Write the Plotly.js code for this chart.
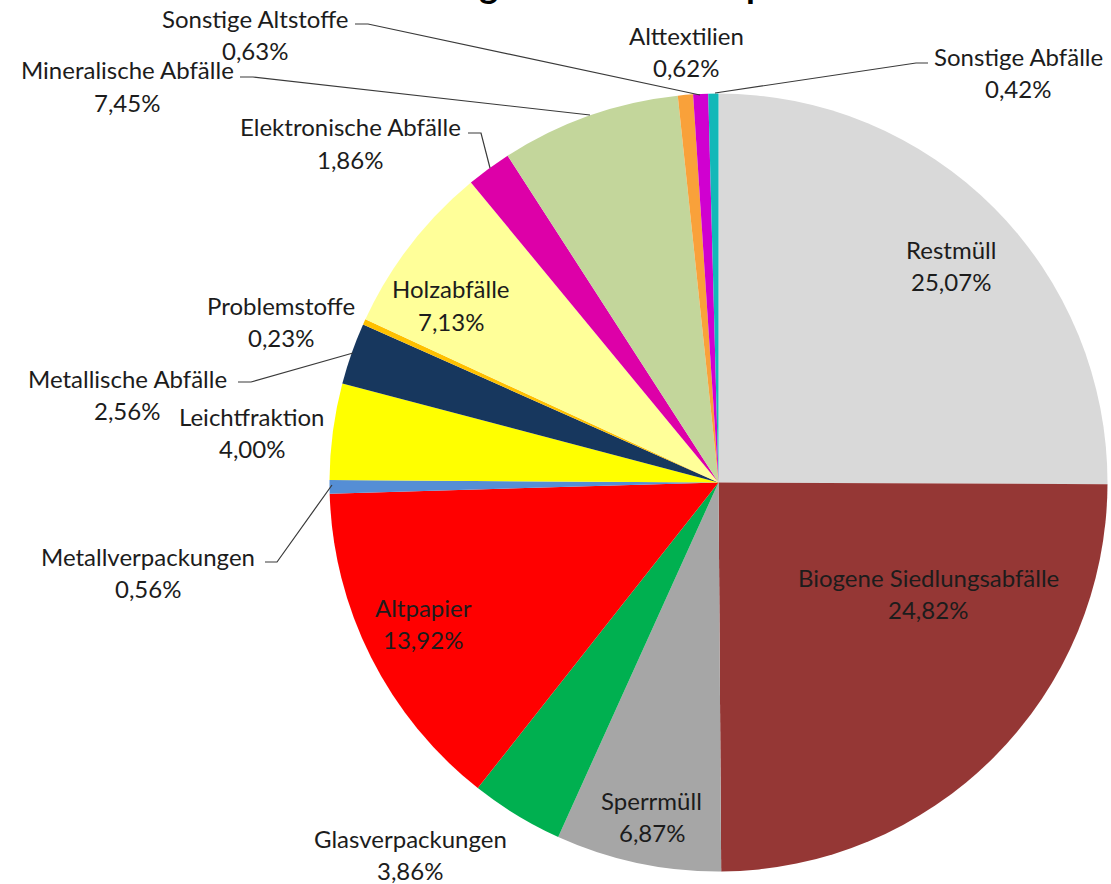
<!DOCTYPE html>
<html>
<head>
<meta charset="utf-8">
<script src="https://cdn.plot.ly/plotly-3.0.1.min.js"></script>
<style>html,body{margin:0;padding:0;background:#fff;}#chart{width:1111px;height:884px;}</style>
</head>
<body>
<div id="chart"></div>
<script>
// ---- data ----
const categories = ["Restmüll","Biogene Siedlungsabfälle","Sperrmüll","Glasverpackungen","Altpapier","Metallverpackungen","Leichtfraktion","Metallische Abfälle","Problemstoffe","Holzabfälle","Elektronische Abfälle","Mineralische Abfälle","Sonstige Altstoffe","Alttextilien","Sonstige Abfälle"];
const shares = [25.07,24.82,6.87,3.86,13.92,0.56,4.00,2.56,0.23,7.13,1.86,7.45,0.63,0.62,0.42];
const colors = ["#d9d9d9","#953735","#a6a6a6","#00b050","#ff0000","#558ed5","#ffff00","#17375e","#ffc000","#ffff99","#dd00a8","#c3d69b","#f9a13a","#d000d0","#12b8b8"];
const chartTitle = "Angaben in Gesamtprozenten";

// ---- layout helpers (label placement, pixel coords of label centre) ----
const W = 1111, H = 884;
const labelPos = [[951,249],[928,577],[652,800],[410,838],[423,607],[148,556],[252,416],[127,378],[281,305],[451,289],[350,127],[127,70],[255,18],[686,36],[1018,57]];
const leaderPaths = {
  5: [[265,562],[277,562],[332,485]],
  7: [[238,382],[251,382],[353,353]],
  10:[[468,133],[481,133],[490,168]],
  11:[[240,77],[253,77],[590,115]],
  12:[[355,24],[368,24],[700,95]],
  14:[[928,63],[916,63],[715,93]]
};
const px = x => x / W, py = y => 1 - y / H;
const fmt = v => v.toFixed(2).replace('.', ',') + '%';

const font = {family: "Lato, 'Open Sans', sans-serif", size: 24, color: "#1c1c1c"};
const annotations = [];
categories.forEach((c, i) => {
  const [x, y] = labelPos[i];
  annotations.push({x: px(x), y: py(y), xref: 'paper', yref: 'paper', text: c, showarrow: false, xanchor: 'center', yanchor: 'middle', font: font});
  annotations.push({x: px(x), y: py(y + 32), xref: 'paper', yref: 'paper', text: fmt(shares[i]), showarrow: false, xanchor: 'center', yanchor: 'middle', font: font});
});
annotations.push({x: px(670), y: py(8), xref: 'paper', yref: 'paper', text: '<b>' + chartTitle + '</b>', showarrow: false, xanchor: 'center', yanchor: 'bottom', font: {family: "Lato, sans-serif", size: 36, color: "#000"}});

const shapes = Object.keys(leaderPaths).map(k => {
  const pts = leaderPaths[k];
  const d = pts.map((p, j) => (j ? 'L' : 'M') + px(p[0]) + ',' + py(p[1])).join(' ');
  return {type: 'path', xref: 'paper', yref: 'paper', path: d, line: {color: '#3a3a3a', width: 1.2}};
});

const trace = {
  type: 'pie',
  labels: categories,
  values: shares,
  marker: {colors: colors, line: {width: 0}},
  sort: false,
  direction: 'clockwise',
  rotation: 0,
  textinfo: 'none',
  hoverinfo: 'label+percent',
  showlegend: false,
  domain: {x: [329.5 / W, 1107.5 / W], y: [1 - 871.5 / H, 1 - 93.5 / H]}
};

const layout = {
  width: W, height: H,
  margin: {l: 0, r: 0, t: 0, b: 0},
  paper_bgcolor: '#ffffff',
  showlegend: false,
  annotations: annotations,
  shapes: shapes
};
Plotly.newPlot('chart', [trace], layout, {displayModeBar: false, staticPlot: true});
</script>
</body>
</html>
